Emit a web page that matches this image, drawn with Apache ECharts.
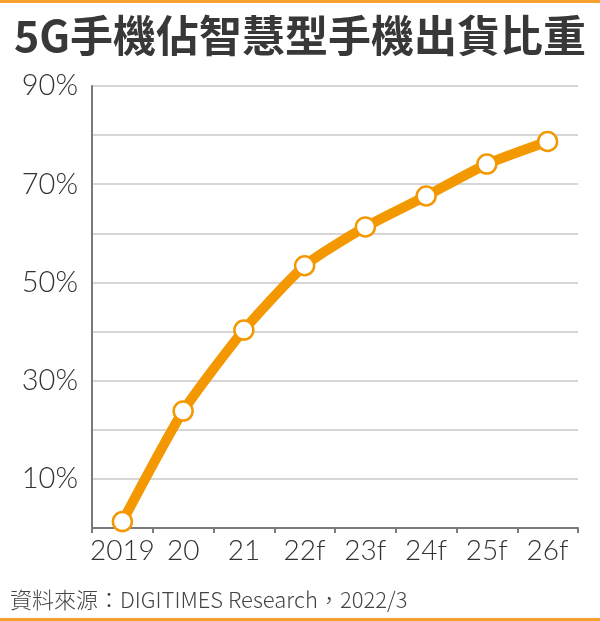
<!DOCTYPE html>
<html>
<head>
<meta charset="utf-8">
<script src="https://cdn.jsdelivr.net/npm/echarts@6/dist/echarts.min.js"></script>
<style>
  html, body { margin: 0; padding: 0; background: #fff; }
  #chart { width: 600px; height: 621px; }
</style>
</head>
<body>
<div id="chart"></div>
<script>
// 年份（f = 預估）
const years = ["2019", "20", "21", "22f", "23f", "24f", "25f", "26f"];
// 5G手機佔比（%）
const share = [1.3, 23.8, 40.3, 53.4, 61.3, 67.6, 74.1, 78.7];
const yTicks = [10, 30, 50, 70, 90];

const orange = "#F39800";
const chart = echarts.init(document.getElementById("chart"));
chart.setOption({
  backgroundColor: "#fff",
  animation: false,
  title: {
    text: "5G手機佔智慧型手機出貨比重",
    left: "center", top: 9,
    textStyle: { fontFamily: "Noto Sans CJK TC", fontWeight: "bold", fontSize: 43, color: "#383838" }
  },
  graphic: [
    { type: "rect", shape: { x: 0, y: 0, width: 600, height: 3 }, style: { fill: "#F7A030" } },
    { type: "rect", shape: { x: 0, y: 618, width: 600, height: 3 }, style: { fill: "#F7A030" } },
    {
      type: "text", left: 10, top: 589,
      style: { text: "資料來源：DIGITIMES Research，2022/3", fontFamily: "Noto Sans CJK TC", fontWeight: 300, fontSize: 22, fill: "#444" }
    }
  ],
  grid: { left: 92, right: 22, top: 86, bottom: 93 },
  xAxis: {
    type: "category",
    data: years,
    boundaryGap: true,
    axisLine: { lineStyle: { color: "#7a7a7a", width: 2 } },
    axisTick: { show: true, length: 5, lineStyle: { color: "#7a7a7a", width: 2 } },
    axisLabel: { interval: 0, fontFamily: "Lato", fontWeight: 300, fontSize: 28, color: "#333", margin: 9 }
  },
  yAxis: {
    type: "value", min: 0, max: 90, interval: 10,
    axisLine: { show: true, lineStyle: { color: "#7a7a7a", width: 2 } },
    axisTick: { show: false },
    splitLine: { lineStyle: { color: "#c8c8c8", width: 1.5 } },
    axisLabel: {
      fontFamily: "Lato", fontWeight: 300, fontSize: 29, color: "#333", margin: 14,
      formatter: (v) => (yTicks.includes(v) ? v + "%" : "")
    }
  },
  series: [{
    type: "line",
    data: share,
    smooth: 0.2,
    symbol: "circle",
    symbolSize: 19,
    lineStyle: { color: orange, width: 10 },
    itemStyle: { color: "#fff", borderColor: orange, borderWidth: 2.5 }
  }]
});
</script>
</body>
</html>
